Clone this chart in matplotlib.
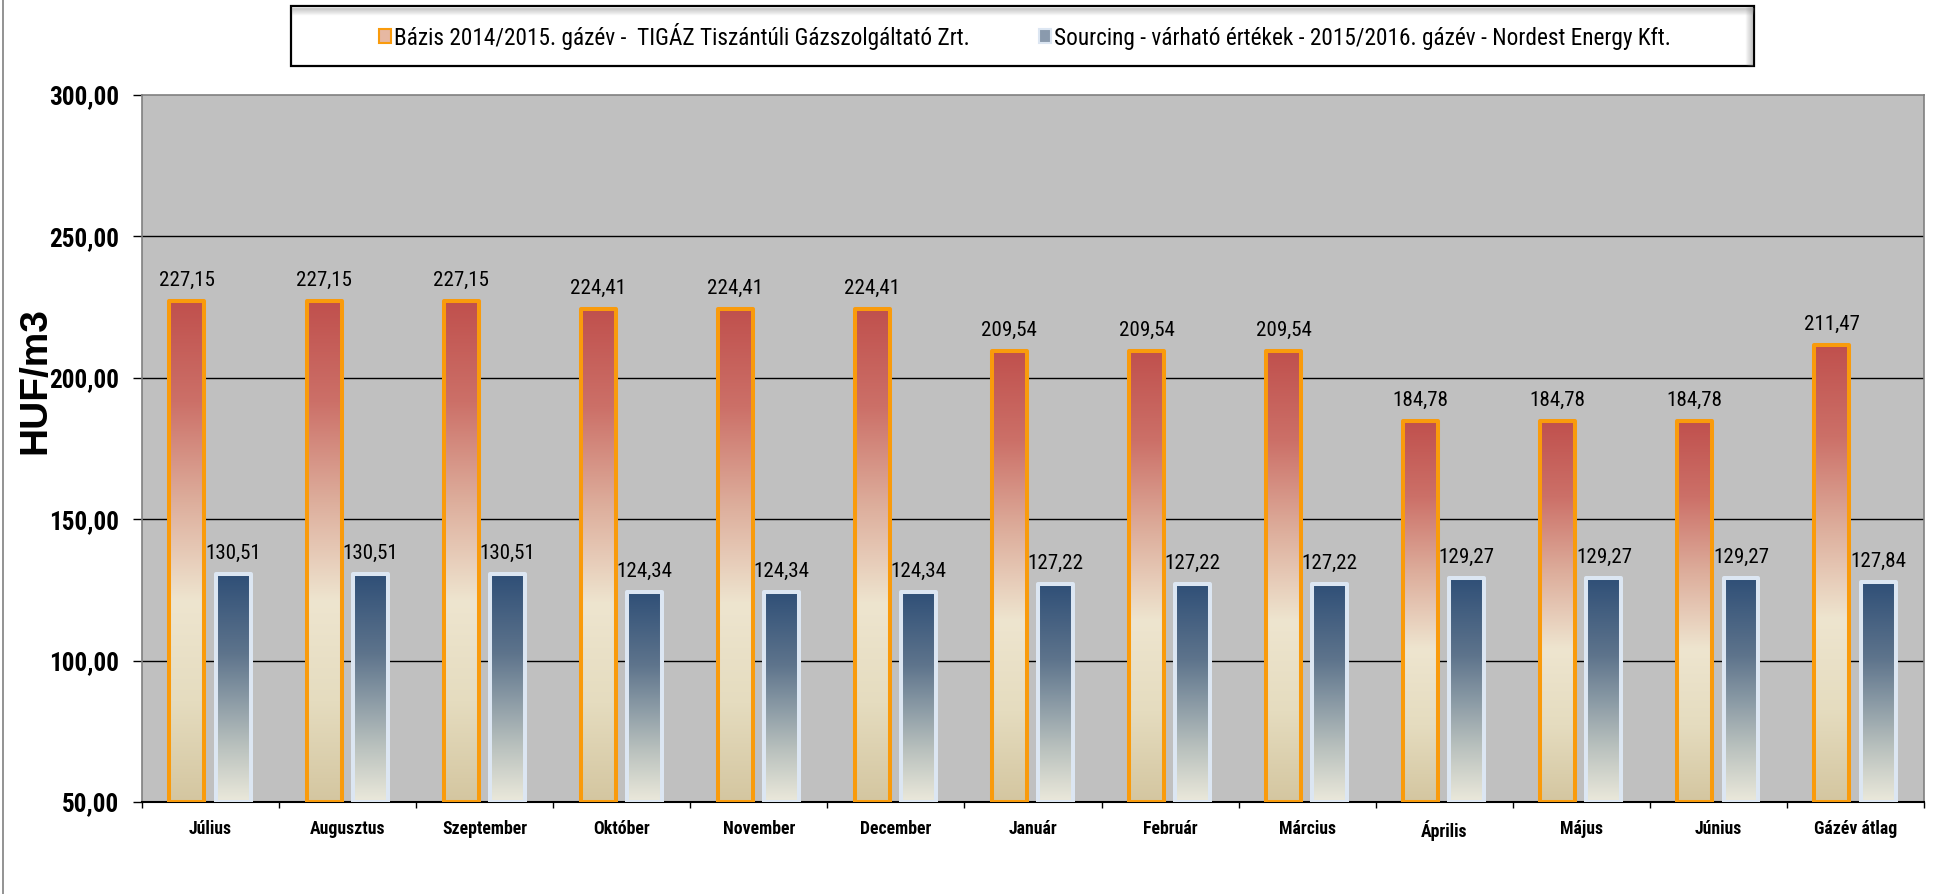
from matplotlib import pyplot as plt
from matplotlib import font_manager
from matplotlib.font_manager import FontProperties
from matplotlib.textpath import TextPath
from matplotlib.colors import LinearSegmentedColormap
from matplotlib.patches import Patch, Rectangle
from matplotlib.lines import Line2D
import numpy as np

# chart data
months = ["Július", "Augusztus", "Szeptember", "Október", "November", "December",
          "Január", "Február", "Március", "Április", "Május", "Június", "Gázév átlag"]
bazis = [227.15, 227.15, 227.15, 224.41, 224.41, 224.41,
         209.54, 209.54, 209.54, 184.78, 184.78, 184.78, 211.47]
sourcing = [130.51, 130.51, 130.51, 124.34, 124.34, 124.34,
            127.22, 127.22, 127.22, 129.27, 129.27, 129.27, 127.84]
labels = ["Bázis 2014/2015. gázév -  TIGÁZ Tiszántúli Gázszolgáltató Zrt.",
          "Sourcing - várható értékek - 2015/2016. gázév - Nordest Energy Kft."]
yticks = [50, 100, 150, 200, 250, 300]

plt.rcParams["font.family"] = ["Liberation Sans", "DejaVu Sans"]


def find_narrow():
    """Pick a condensed sans face if one is installed."""
    faces = {}
    for f in font_manager.fontManager.ttflist:
        faces.setdefault(f.name, set()).add(str(f.stretch))
    for n in ("Liberation Sans Narrow", "Arial Narrow", "Roboto Condensed",
              "Open Sans Condensed", "Noto Sans Condensed", "DejaVu Sans Condensed"):
        if n in faces:
            return n, "normal"
    for n in ("Liberation Sans", "Roboto", "Open Sans", "Noto Sans", "DejaVu Sans"):
        for s in ("semi-condensed", "condensed"):
            if s in faces.get(n, set()):
                return n, s
    return "Liberation Sans", "normal"


NARROW, STRETCH = find_narrow()


def fprop(size, weight="normal"):
    return FontProperties(family=NARROW, stretch=STRETCH, weight=weight, size=size)


def fit(text, target_px, weight="normal"):
    # font size (pt) that gives the text the ink width seen in the reference
    w = TextPath((0, 0), text, prop=fprop(10, weight)).get_extents().width
    return 10 * target_px / (w * 100 / 72)


def fmt(v):
    return f"{v:.2f}".replace(".", ",")


W, H = 1934, 894
fig = plt.figure(figsize=(W / 100, H / 100), dpi=100)
ax = fig.add_axes([142 / W, 1 - 802 / H, (1924 - 142) / W, (802 - 95) / H])
ax.set_facecolor("#C0C0C0")

x = np.arange(len(months))
bw = 0.255
base = 50

b1 = ax.bar(x - 0.172, np.array(bazis) - base, bw, bottom=base, facecolor="none",
            edgecolor="#F99B0C", linewidth=2.9, zorder=3, joinstyle="round")
b2 = ax.bar(x + 0.165, np.array(sourcing) - base, bw, bottom=base, facecolor="none",
            edgecolor="#DCE6F2", linewidth=2.9, zorder=3, joinstyle="round")

# gradient fills, bottom -> top
cm_orange = LinearSegmentedColormap.from_list("o", [
    (0.0, "#D4C6A0"), (0.2, "#E5DCBF"), (0.4, "#EEE5CF"), (0.5, "#E6C9B6"),
    (0.6, "#DDAE9C"), (0.8, "#CC7068"), (1.0, "#C0504D")])
cm_blue = LinearSegmentedColormap.from_list("b", [
    (0.0, "#EBE9DB"), (0.25, "#B8C0BD"), (0.45, "#8A9AA5"), (0.65, "#5E748C"),
    (1.0, "#2F4F77")])
grad = np.linspace(0, 1, 256).reshape(-1, 1)
for bars, cm in ((b1, cm_orange), (b2, cm_blue)):
    for p in bars:
        x0, y0 = p.get_x(), p.get_y()
        ax.imshow(grad, extent=[x0, x0 + p.get_width(), y0, y0 + p.get_height()],
                  origin="lower", aspect="auto", cmap=cm, zorder=2, interpolation="bilinear")

val_fp = fprop(fit("227,15", 54))
ax.bar_label(b1, labels=[fmt(v) for v in bazis], padding=8, fontproperties=val_fp,
             color="black")
ax.bar_label(b2, labels=[fmt(v) for v in sourcing], padding=8, fontproperties=val_fp,
             color="black")

ax.set_xlim(-0.5, len(months) - 0.5)
ax.set_ylim(50, 300)

# grid
for v in yticks[1:-1]:
    ax.axhline(v, color="black", linewidth=1, zorder=1)

ax.set_yticks(yticks)
ax.set_yticklabels([fmt(v) for v in yticks],
                   fontproperties=fprop(fit("300,00", 68, "bold"), "bold"))
ax.tick_params(axis="y", length=6.5, width=1, pad=10, color="black")
ax.set_xticks(x)
ax.set_xticklabels(months, fontproperties=fprop(fit("Szeptember", 84, "bold"), "bold"))
ax.set_xticks(np.arange(len(months) + 1) - 0.5, minor=True)
ax.tick_params(axis="x", which="major", length=0, pad=13)
ax.tick_params(axis="x", which="minor", length=4.5, width=1, color="black")

for s in ("left", "top", "right"):
    ax.spines[s].set_color("#808080")
    ax.spines[s].set_linewidth(1.2)
ax.spines["bottom"].set_color("black")
ax.spines["bottom"].set_linewidth(1.5)

ax.set_ylabel("HUF/m3", fontsize=28, fontweight="bold")
ax.yaxis.set_label_coords((53 - 142) / (1924 - 142), (802 - 381) / (802 - 95))

# legend box with inner shadow
lx0, lx1, ly0, ly1 = 291, 1754, 6, 66
for i in range(7):
    a = 0.35 * (1 - i / 7)
    fig.add_artist(Line2D([(lx1 - 2 - i) / W] * 2, [1 - (ly1 - 1) / H, 1 - (ly0 + 1) / H],
                          color="gray", alpha=a, linewidth=1))
    fig.add_artist(Line2D([(lx0 + 1) / W, (lx1 - 1) / W], [1 - (ly0 + 2 + i) / H] * 2,
                          color="gray", alpha=a, linewidth=1))
fig.add_artist(Rectangle((lx0 / W, 1 - ly1 / H), (lx1 - lx0) / W, (ly1 - ly0) / H,
                         facecolor="none", edgecolor="black", linewidth=1.6))

handles = [Patch(facecolor="#E6B8A2", edgecolor="#F99B0C", linewidth=1.5),
           Patch(facecolor="#8A9AAD", edgecolor="#DCE6F2", linewidth=1.5)]
lfs = fit(labels[0], 573)
em = lfs * 100 / 72
fig.legend(handles, labels, loc="center", bbox_to_anchor=(1025 / W, 1 - 36 / H),
           ncol=2, frameon=False, prop=fprop(lfs),
           handlelength=12 / em, handleheight=12 / em, handletextpad=3 / em,
           columnspacing=70 / em)

# outer frame line on the left
fig.add_artist(Line2D([3 / W, 3 / W], [0, 1], color="#808080", linewidth=1.2))

plt.savefig("out.png", dpi=100)
